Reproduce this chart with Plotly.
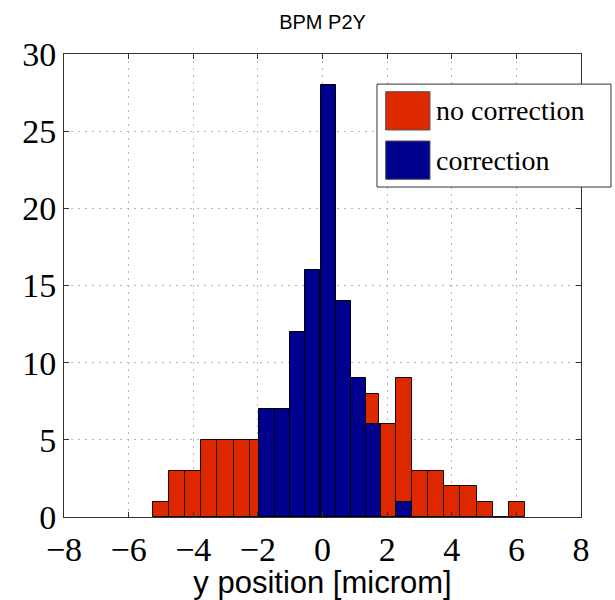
import plotly.graph_objects as go

# ---- data ----
red_centers = [-5.01, -4.50, -4.00, -3.50, -3.00, -2.50, -1.99, -1.49, -0.99, -0.49,
               0.01, 0.51, 1.01, 1.51, 2.01, 2.51, 3.01, 3.51, 4.02, 4.52, 5.02, 5.52, 6.02]
red_counts = [1, 3, 3, 5, 5, 5, 5, 5, 6, 7, 7, 7, 6, 8, 6, 9, 3, 3, 2, 2, 1, 0, 1]

blue_centers = [-1.72, -1.25, -0.77, -0.30, 0.18, 0.65, 1.12, 1.59, 2.05, 2.52]
blue_counts = [7, 7, 12, 16, 28, 14, 9, 6, 0, 1]

x_ticks = [-8, -6, -4, -2, 0, 2, 4, 6, 8]
y_ticks = [0, 5, 10, 15, 20, 25, 30]

series_names = ["no correction", "correction"]
title_text = "BPM P2Y"
x_title = "y position [microm]"

RED = "#DD2800"
BLUE = "#00008F"

fig = go.Figure()
fig.add_trace(go.Bar(x=red_centers, y=red_counts, width=0.501, name=series_names[0],
                     marker=dict(color=RED, line=dict(color="#1a0500", width=1)),
                     showlegend=False))
fig.add_trace(go.Bar(x=blue_centers, y=blue_counts, width=0.471, name=series_names[1],
                     marker=dict(color=BLUE, line=dict(color="#000000", width=1)),
                     showlegend=False))

axis_common = dict(showline=True, linecolor="#333333", linewidth=1, mirror="ticks",
                   ticks="inside", ticklen=5, tickcolor="#333333",
                   showgrid=True, gridcolor="#b5b5b5", griddash="2px,5px", gridwidth=1,
                   zeroline=False,
                   tickfont=dict(family="Liberation Serif", size=34, color="black"))

fig.update_xaxes(range=[-8, 8], tickvals=x_ticks, **axis_common, ticklabelstandoff=2,
                 title=dict(text=x_title, font=dict(family="Liberation Sans", size=31, color="black"),
                            standoff=0))
fig.update_yaxes(range=[0, 30], tickvals=y_ticks, **axis_common)

# custom legend (large swatches like the reference)
lx0, lx1, ly0, ly1 = 0.6054, 1.058, 0.7127, 0.935
fig.add_shape(type="rect", xref="paper", yref="paper", x0=lx0, x1=lx1, y0=ly0, y1=ly1,
              line=dict(color="#333333", width=1), fillcolor="white", layer="above")
swatches = [(RED, 0.8359, 0.9186, 0.877), (BLUE, 0.7294, 0.8121, 0.771)]
for (col, y0, y1, ty), name in zip(swatches, series_names):
    fig.add_shape(type="rect", xref="paper", yref="paper", x0=0.6222, x1=0.7079, y0=y0, y1=y1,
                  line=dict(color="#555555", width=1), fillcolor=col, layer="above")
    fig.add_annotation(xref="paper", yref="paper", x=0.7157, y=ty, text=name, showarrow=False,
                       xanchor="left", yanchor="middle",
                       font=dict(family="Liberation Serif", size=28, color="black"))

fig.update_layout(
    width=615, height=600,
    margin=dict(l=64, r=34, t=54, b=83),
    paper_bgcolor="white", plot_bgcolor="white",
    barmode="overlay", bargap=0,
    title=dict(text=title_text, x=322.5 / 615, xanchor="center",
               y=1 - 22 / 600, yanchor="middle", yref="container",
               font=dict(family="Liberation Sans", size=20, color="black")),
)

fig.write_html("out.html")
